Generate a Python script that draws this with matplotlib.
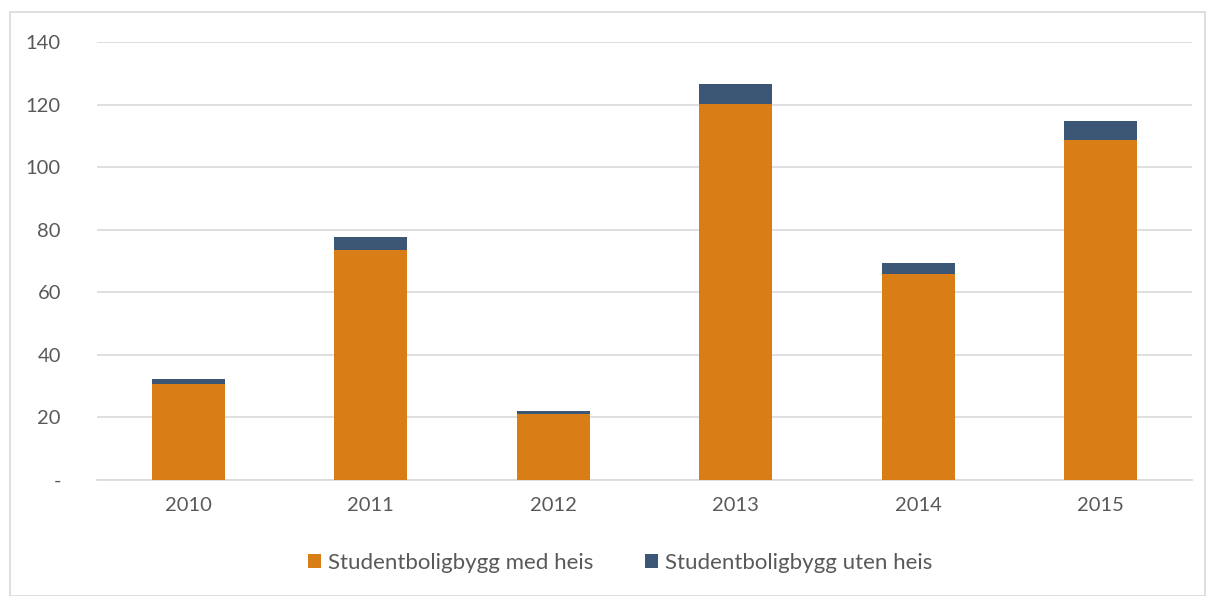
import matplotlib
matplotlib.use("Agg")
import matplotlib.pyplot as plt
from matplotlib.patches import Rectangle

years = ["2010", "2011", "2012", "2013", "2014", "2015"]
med_heis = [30.7, 73.5, 21.0, 120.2, 65.8, 108.8]
uten_heis = [1.6, 4.1, 1.1, 6.4, 3.6, 5.8]
yticks = [0, 20, 40, 60, 80, 100, 120, 140]
ytick_labels = ["-", "20", "40", "60", "80", "100", "120", "140"]

c_med = "#D97E17"
c_uten = "#3B5775"
txt = "#595959"
grid = "#D9D9D9"

plt.rcParams['font.family'] = ['Lato', 'DejaVu Sans']

fig = plt.figure(figsize=(12.09, 5.96), dpi=100)
ax = fig.add_axes([97/1209, 1-480/596, (1192-97)/1209, (480-42)/596])

x = list(range(len(years)))
ax.bar(x, med_heis, width=0.4, color=c_med, label="Studentboligbygg med heis", zorder=3)
ax.bar(x, uten_heis, width=0.4, bottom=med_heis, color=c_uten, label="Studentboligbygg uten heis", zorder=3)

ax.set_xlim(-0.5, 5.5)
ax.set_ylim(0, 140)
ax.set_yticks(yticks)
ax.set_yticklabels(ytick_labels)
ax.set_xticks(x)
ax.set_xticklabels(years)
ax.yaxis.grid(True, color=grid, linewidth=1.2, zorder=0)
for s in ["top", "right", "left"]:
    ax.spines[s].set_visible(False)
ax.spines["bottom"].set_color(grid)
ax.spines["bottom"].set_linewidth(1.2)
ax.tick_params(axis="both", length=0, colors=txt, labelsize=14.5)
ax.tick_params(axis="y", pad=26)
ax.tick_params(axis="x", pad=12)

fig.legend(loc="center", bbox_to_anchor=(620/1209, 1-563/596), ncol=2, frameon=False,
           fontsize=16, labelcolor=txt, handlelength=0.6, handleheight=0.6,
           handletextpad=0.3, columnspacing=2.3)

fig.patches.append(Rectangle((10/1209, 0), 1195/1209, 1-12/596, transform=fig.transFigure,
                             fill=False, edgecolor=grid, linewidth=1.2))

fig.savefig("out.png", dpi=100)
